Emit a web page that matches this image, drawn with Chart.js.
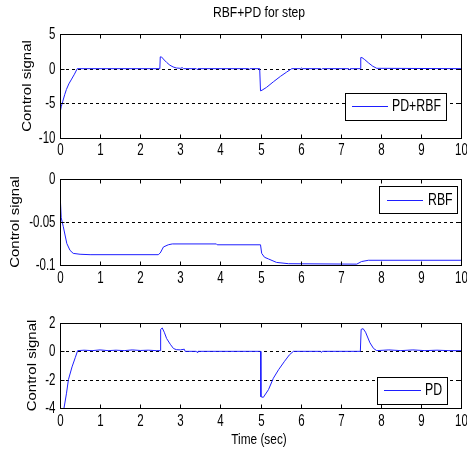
<!DOCTYPE html>
<html><head><meta charset="utf-8">
<script src="https://cdn.jsdelivr.net/npm/chart.js@4.4.1/dist/chart.umd.min.js"></script>
<style>
html,body{margin:0;padding:0;background:#fff;}
#wrap{position:relative;width:467px;height:450px;overflow:hidden;}
canvas{position:absolute;left:0;}
</style></head><body>
<div id="wrap">
<canvas id="c1" width="467" height="160" style="top:0px"></canvas>
<canvas id="c2" width="467" height="140" style="top:160px"></canvas>
<canvas id="c3" width="467" height="150" style="top:300px"></canvas>
</div>
<script>
// ---- data ----
const xTicks = [0,1,2,3,4,5,6,7,8,9,10];

const tMix = [0,0.03,0.07,0.12,0.16,0.22,0.29,0.36,0.43,2.49,2.5,2.53,2.6,2.66,2.74,2.82,2.9,3.0,3.05,3.08,3.4,3.42,3.44,4.7,4.72,4.74,4.98,5.0,5.04,5.15,5.32,5.5,5.65,5.78,6.0,6.02,6.04,6.5,6.52,6.54,7.2,7.22,7.24,7.49,7.5,7.53,7.6,7.7,7.8,7.9,10];
const yMix = [-6.4,-5.5,-4.7,-3.7,-3.0,-2.2,-1.5,-0.8,0,0,1.7,1.7,1.25,0.9,0.5,0.25,0.1,0.05,0.15,0,0,-0.12,0,0,-0.1,0,0,-3.2,-3.1,-2.7,-1.9,-1.1,-0.5,0,0,0.1,0,0,-0.1,0,0,-0.2,0,0,1.6,1.6,1.3,0.8,0.35,0.05,0];
const yTicksMix = [-10,-5,0,5];

const tRbf = [0,0.01,0.03,0.08,0.17,0.25,0.33,0.5,0.75,2.45,2.5,2.58,2.7,2.8,3.9,3.92,5.0,5.03,5.1,5.2,5.4,5.7,7.4,7.52,7.69,10];
const yRbf = [0,-0.025,-0.045,-0.055,-0.075,-0.083,-0.0865,-0.0875,-0.088,-0.088,-0.086,-0.079,-0.0765,-0.0755,-0.0755,-0.0765,-0.0765,-0.0865,-0.091,-0.093,-0.097,-0.0985,-0.099,-0.096,-0.0945,-0.0945];
const yTicksRbf = [-0.1,-0.05,0];

const tPd = [0,0.05,0.1,0.16,0.21,0.3,0.38,0.44,0.6,0.8,1.0,1.2,1.4,1.6,1.8,2.0,2.2,2.4,2.5,2.51,2.55,2.6,2.66,2.75,2.83,2.9,3.0,3.1,3.12,3.4,3.42,3.44,4.98,5.0,5.01,5.07,5.2,5.32,5.45,5.6,5.72,5.82,6.5,6.52,6.54,7.49,7.5,7.51,7.56,7.62,7.73,7.82,7.9,8.2,8.5,8.8,9.1,9.4,9.7,10];
const yPd = [-6.4,-5.2,-4.0,-3.0,-2.0,-1.1,-0.45,0.05,0.08,0.05,0.1,0.05,0.08,0.05,0.1,0.06,0.08,0.05,0.05,1.55,1.65,1.35,0.9,0.5,0.2,0.12,0.1,0.15,0,0,-0.08,0,0,0,-3.2,-3.25,-2.7,-1.9,-1.3,-0.7,-0.25,0,0,-0.08,0,0,0,1.55,1.6,1.35,0.6,0.2,0.05,0.1,0.05,0.1,0.05,0.08,0.05,0.05];
const yTicksPd = [-4,-2,0,2];

// ---- styling ----
const FONT = "'Liberation Sans',Arial,sans-serif";
const BLUE = 'rgb(30,30,255)';

function txt(ctx, s, x, y, size, align, sx) {
  ctx.save();
  ctx.translate(x, y);
  ctx.scale(sx, 1);
  ctx.font = size + 'px ' + FONT;
  ctx.fillStyle = '#000';
  ctx.textAlign = align; ctx.textBaseline = 'middle';
  ctx.fillText(s, 0, 0);
  ctx.restore();
}

const framePlugin = {
  id: 'frame',
  beforeDatasetsDraw(chart, args, o) {
    const ctx = chart.ctx, a = chart.chartArea, y = chart.scales.y;
    ctx.save();
    ctx.strokeStyle = '#000'; ctx.lineWidth = 1; ctx.setLineDash([3,3]);
    o.yTicks.forEach(v => {
      if (v === y.min || v === y.max) return;
      const py = Math.round(y.getPixelForValue(v)) + 0.5;
      ctx.beginPath(); ctx.moveTo(a.left, py); ctx.lineTo(a.right, py); ctx.stroke();
    });
    ctx.restore();
  },
  afterDatasetsDraw(chart, args, o) {
    const ctx = chart.ctx, a = chart.chartArea, x = chart.scales.x, y = chart.scales.y;
    ctx.save();
    ctx.strokeStyle = '#000'; ctx.lineWidth = 1; ctx.setLineDash([]);
    const L = Math.round(a.left)+0.5, R = Math.round(a.right)+0.5, T = Math.round(a.top)+0.5, B = Math.round(a.bottom)+0.5;
    ctx.strokeRect(L, T, R-L, B-T);
    const tl = 4;
    x.ticks.forEach(tk => {
      const px = Math.round(x.getPixelForValue(tk.value)) + 0.5;
      ctx.beginPath(); ctx.moveTo(px, T); ctx.lineTo(px, T+tl); ctx.moveTo(px, B); ctx.lineTo(px, B-tl); ctx.stroke();
      txt(ctx, String(tk.value), px, B + o.xLabelOff, 16, 'center', 0.72);
    });
    y.ticks.forEach(tk => {
      const py = Math.round(y.getPixelForValue(tk.value)) + 0.5;
      ctx.beginPath(); ctx.moveTo(L, py); ctx.lineTo(L+tl, py); ctx.moveTo(R, py); ctx.lineTo(R-tl, py); ctx.stroke();
      txt(ctx, String(tk.value), L - 5, py, 16, 'right', 0.72);
    });
    // legend
    const lg = o.legend;
    ctx.fillStyle = '#fff';
    ctx.fillRect(lg.x1, lg.y1, lg.x2-lg.x1, lg.y2-lg.y1);
    ctx.strokeStyle = '#000';
    ctx.strokeRect(lg.x1+0.5, lg.y1+0.5, lg.x2-lg.x1, lg.y2-lg.y1);
    ctx.strokeStyle = BLUE;
    ctx.beginPath(); ctx.moveTo(lg.l1, lg.ly+0.5); ctx.lineTo(lg.l2, lg.ly+0.5); ctx.stroke();
    txt(ctx, chart.data.datasets[0].label, lg.tx, lg.ly+1, 16, 'left', 0.77);
    // y title
    ctx.save();
    ctx.translate(o.yTitleX, (a.top + a.bottom)/2);
    ctx.scale(0.9, 1);
    ctx.rotate(-Math.PI/2);
    ctx.font = '15px ' + FONT;
    ctx.fillStyle = '#000';
    ctx.textAlign = 'center'; ctx.textBaseline = 'middle';
    ctx.fillText('Control signal', 0, 0);
    ctx.restore();
    (o.texts || []).forEach(t => txt(ctx, t.s, t.x, t.y, t.size, 'center', t.sx));
    ctx.restore();
  }
};

function makeChart(id, H, top, bottom, tArr, yArr, yTicks, label, legend, yTitleX, xLabelOff, texts) {
  const pts = tArr.map((t, i) => ({x: t, y: yArr[i]}));
  return new Chart(document.getElementById(id), {
    type: 'line',
    data: { datasets: [{ label, data: pts, borderColor: BLUE, borderWidth: 1, pointRadius: 0, tension: 0, fill: false }] },
    options: {
      responsive: false, animation: false, devicePixelRatio: 1,
      layout: { padding: { left: 0, right: 6, top: top, bottom: 0 } },
      plugins: { legend: { display: false }, tooltip: { enabled: false },
        frame: { yTicks, legend, yTitleX, xLabelOff, texts } },
      scales: {
        x: { type: 'linear', min: 0, max: 10,
          afterBuildTicks: s => { s.ticks = xTicks.map(v => ({value: v})); },
          afterFit: s => { s.height = H - bottom; s.paddingLeft = 0; s.paddingRight = 0; },
          grid: { display: false, drawTicks: false }, border: { display: false },
          ticks: { display: false } },
        y: { type: 'linear', min: yTicks[0], max: yTicks[yTicks.length-1],
          afterBuildTicks: s => { s.ticks = yTicks.map(v => ({value: v})); },
          afterFit: s => { s.width = 60; s.paddingTop = 0; s.paddingBottom = 0; },
          grid: { display: false, drawTicks: false }, border: { display: false },
          ticks: { display: false } }
      }
    },
    plugins: [framePlugin]
  });
}

makeChart('c1', 160, 34, 138, tMix, yMix, yTicksMix, 'PD+RBF',
  {x1:345, y1:93, x2:446, y2:120, l1:352, l2:388, ly:106, tx:392}, 27, 12,
  [{s:'RBF+PD for step', x:259, y:13, size:15, sx:0.81}]);
makeChart('c2', 140, 19, 105, tRbf, yRbf, yTicksRbf, 'RBF',
  {x1:379, y1:26, x2:457, y2:53, l1:387, l2:423, ly:40, tx:428}, 15, 13, []);
makeChart('c3', 150, 23, 108, tPd, yPd, yTicksPd, 'PD',
  {x1:377, y1:77, x2:447, y2:104, l1:384, l2:421, ly:90, tx:425}, 32, 13,
  [{s:'Time (sec)', x:259, y:140, size:15, sx:0.79}]);
</script>
</body></html>
